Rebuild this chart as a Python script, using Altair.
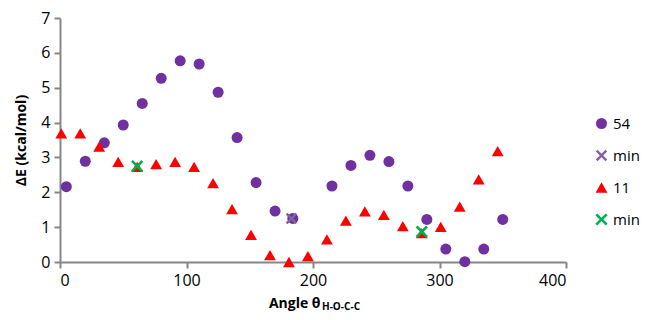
import altair as alt
import pandas as pd

# Series "54" (purple circles)
x54 = [5, 20, 35, 50, 65, 80, 95, 110, 125, 140, 155, 170, 184, 215, 230, 245, 260, 275, 290, 305, 320, 335, 350]
y54 = [2.16, 2.89, 3.42, 3.93, 4.55, 5.27, 5.77, 5.68, 4.87, 3.57, 2.28, 1.46, 1.25, 2.18, 2.77, 3.06, 2.88, 2.18, 1.22, 0.37, 0.01, 0.37, 1.22]
# Minimum of series 54
xmin54 = [183]
ymin54 = [1.25]
# Series "11" (red triangles)
x11 = [1, 16, 31, 46, 61, 76, 91, 106, 121, 136, 151, 166, 181, 196, 211, 226, 241, 256, 271, 286, 301, 316, 331, 346]
y11 = [3.69, 3.69, 3.31, 2.87, 2.73, 2.81, 2.87, 2.73, 2.26, 1.52, 0.78, 0.20, 0.0, 0.17, 0.65, 1.19, 1.45, 1.35, 1.03, 0.83, 1.01, 1.59, 2.37, 3.18]
# Minima of series 11
xmin11 = [61, 286]
ymin11 = [2.75, 0.87]

series_keys = ["54", "min54", "11", "min11"]
series_colors = ["#7030A0", "#8064A2", "#FF0000", "#00B050"]
xpath = "M-1,-0.7L-0.7,-1L0,-0.3L0.7,-1L1,-0.7L0.3,0L1,0.7L0.7,1L0,0.3L-0.7,1L-1,0.7L-0.3,0Z"
series_shapes = ["circle", xpath, "triangle-up", xpath]
series_sizes = [121, 150, 230, 130]

rows = []
for key, xs, ys in [("54", x54, y54), ("min54", xmin54, ymin54), ("11", x11, y11), ("min11", xmin11, ymin11)]:
    for a, b in zip(xs, ys):
        rows.append({"angle": a, "dE": b, "series": key})
df = pd.DataFrame(rows)

FONT = "Open Sans"

points = alt.Chart(df).mark_point(filled=True, opacity=1, strokeWidth=0).encode(
    x=alt.X("angle:Q", scale=alt.Scale(domain=[0, 400], nice=False),
            axis=alt.Axis(values=[0, 100, 200, 300, 400], title="Angle θ",
                          titleAlign="right", titleX=260, titleY=45, titleBaseline="alphabetic",
                          titleFontWeight="bold", titleFontSize=14, grid=False)),
    y=alt.Y("dE:Q", scale=alt.Scale(domain=[0, 7], nice=False),
            axis=alt.Axis(values=[0, 1, 2, 3, 4, 5, 6, 7], title="ΔE (kcal/mol)",
                          titleFontWeight="bold", titleFontSize=14, grid=False, titlePadding=12)),
    color=alt.Color("series:N", scale=alt.Scale(domain=series_keys, range=series_colors),
                    legend=alt.Legend(title=None, orient="none", legendX=534, legendY=98,
                                      labelExpr="slice(datum.label,0,3)=='min' ? 'min' : datum.label",
                                      symbolSize=130, labelFontSize=15, labelFont=FONT,
                                      rowPadding=16, labelOffset=4, symbolStrokeWidth=0)),
    shape=alt.Shape("series:N", scale=alt.Scale(domain=series_keys, range=series_shapes)),
    size=alt.Size("series:N", scale=alt.Scale(domain=series_keys, range=series_sizes), legend=None),
    order=alt.Order("ord:Q"),
).transform_calculate(
    ord="indexof(['54','min54','11','min11'], datum.series)"
)

sub = alt.Chart(pd.DataFrame({"t": ["H-O-C-C"]})).mark_text(
    align="left", baseline="alphabetic", fontSize=10, fontWeight="bold", font=FONT, color="#000000"
).encode(x=alt.value(262), y=alt.value(292), text="t:N")

chart = alt.layer(points, sub).properties(
    width=506, height=244,
    autosize=alt.AutoSizeParams(type="none"),
    padding={"left": 52, "top": 10, "right": 79, "bottom": 50},
).configure_view(stroke=None).configure_axis(
    domainColor="#868686", domainWidth=2, tickColor="#868686", tickWidth=2, tickSize=6,
    labelFont=FONT, titleFont=FONT, labelFontSize=16, labelColor="#000000", titleColor="#000000",
    labelPadding=4,
)

chart.save("out.html", embed_options={"renderer": "svg", "actions": False})
